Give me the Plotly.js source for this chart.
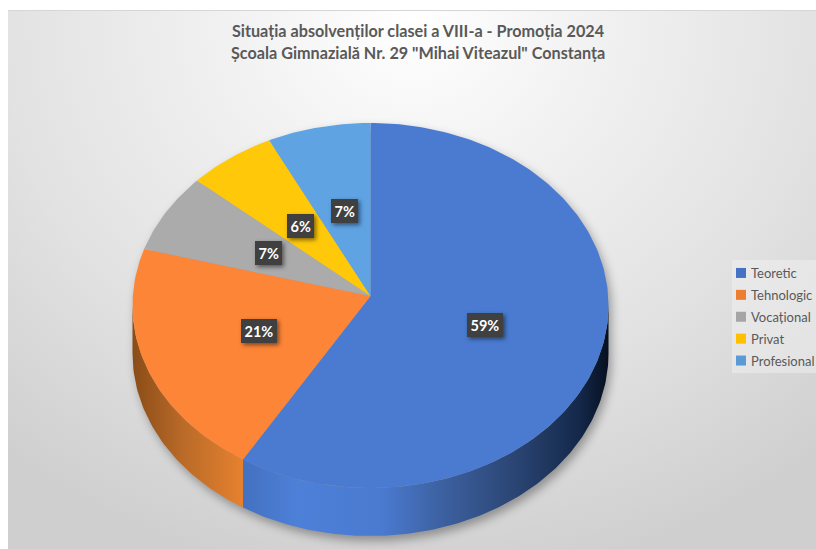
<!DOCTYPE html>
<html>
<head>
<meta charset="utf-8">
<script src="https://cdn.plot.ly/plotly-3.0.0.min.js"></script>
<style>
html,body{margin:0;padding:0;background:#fff;overflow:hidden}
#bg{position:absolute;left:8px;top:10px;right:0;bottom:0;border-top:1px solid #d6d6d6;
background:radial-gradient(ellipse 78% 105% at 50% 2%,#ffffff 0%,#f1f1f1 30%,#e2e2e2 65%,#cfcfcf 100%)}
#chart{position:absolute;left:0;top:0;width:816px;height:549px}
#chart .scatterlayer{filter:drop-shadow(3px 5px 5px rgba(0,0,0,.33))}
#chart .annotation rect{filter:drop-shadow(2px 2px 2px rgba(0,0,0,.5))}
</style>
</head>
<body>
<div id="bg"></div>
<div id="chart"></div>
<script>
// Data
const categories = ["Teoretic", "Tehnologic", "Vocațional", "Privat", "Profesional"];
const percents = [59, 21, 7, 6, 7];
const sliceColors = ["#4A7BD0", "#FD8537", "#ABABAB", "#FFC90A", "#5FA3E3"];
const legendColors = ["#4472C4", "#ED7D31", "#A5A5A5", "#FFC000", "#5B9BD5"];
const titleLines = ["Situația absolvenților clasei a VIII-a - Promoția 2024",
                    "Școala Gimnazială Nr. 29 \"Mihai Viteazul\" Constanța"];

// Geometry of the tilted pie, in axis units
const W = 816, H = 549;
const cx = 370.5, cy = 305.5, rx = 238, ry = 182.5, apexY = 296, depth = 48;
const FONT = "Lato, Carlito, Calibri, sans-serif";

const rim = (f, dy = 0) => {
  const t = 2 * Math.PI * f;
  return [cx + rx * Math.sin(t), cy - ry * Math.cos(t) + dy];
};
const arc = (f0, f1, dy = 0) => {
  const n = Math.max(2, Math.ceil((f1 - f0) * 360));
  return Array.from({length: n + 1}, (_, i) => rim(f0 + (f1 - f0) * i / n, dy));
};

const total = percents.reduce((a, b) => a + b, 0);
let acc = 0;
const bounds = percents.map(v => { const s = acc / total; acc += v; return [s, acc / total]; });

// Side wall: the part of each slice's rim that faces the viewer (0.25 to 0.75), shaded left to right
const wallScales = [
  [[0, "#4471c0"], [0.15, "#4d80d8"], [0.38, "#4a7ad0"], [0.55, "#3c609f"], [0.75, "#2a4472"], [0.92, "#14284a"], [1, "#06101f"]],
  [[0, "#8a4c17"], [0.45, "#b96a28"], [1, "#e6812f"]]
];
const traces = [];
bounds.forEach((b, i) => {
  const f0 = Math.max(b[0], 0.25), f1 = Math.min(b[1], 0.75);
  if (f1 <= f0) return;
  const pts = arc(f0, f1).concat(arc(f0, f1, depth).reverse());
  traces.push({
    type: "scatter", mode: "lines", x: pts.map(p => p[0]), y: pts.map(p => p[1]),
    fill: "toself", line: {width: 0}, showlegend: false, hoverinfo: "skip",
    fillgradient: {type: "horizontal", colorscale: wallScales[i]}
  });
});

// Top surface
bounds.forEach((b, i) => {
  const pts = [[cx, apexY]].concat(arc(b[0], b[1]));
  traces.push({
    type: "scatter", mode: "lines", name: categories[i],
    x: pts.map(p => p[0]), y: pts.map(p => p[1]),
    fill: "toself", fillcolor: sliceColors[i], line: {width: 0},
    showlegend: false, hovertemplate: categories[i] + ": " + percents[i] + "%<extra></extra>"
  });
});

// Legend keys
categories.forEach((c, i) => traces.push({
  type: "scatter", mode: "markers", name: c, x: [null], y: [null],
  legendgroup: c, marker: {symbol: "square", size: 10, color: legendColors[i]}, hoverinfo: "skip"
}));

// Value labels sit halfway between the apex and the rim of each slice
const annotations = bounds.map((b, i) => {
  const p = rim((b[0] + b[1]) / 2);
  return {
    xref: "x", yref: "y", x: (p[0] + cx) / 2, y: (p[1] + apexY) / 2 - 1,
    text: "<b>" + percents[i] + "%</b>", showarrow: false,
    font: {family: FONT, size: 14.5, color: "#ffffff"},
    bgcolor: "#404040", borderpad: 3.5, borderwidth: 0
  };
});
titleLines.forEach((t, i) => annotations.push({
  xref: "paper", yref: "paper", x: 418.5 / W, y: 1 - (31 + 22 * i) / H,
  text: "<b>" + t + "</b>", showarrow: false, xanchor: "center", yanchor: "middle",
  font: {family: FONT, size: 16.2, color: "#595959"}
}));

const layout = {
  width: W, height: H, margin: {l: 0, r: 0, t: 0, b: 0, autoexpand: false},
  paper_bgcolor: "rgba(0,0,0,0)", plot_bgcolor: "rgba(0,0,0,0)",
  xaxis: {range: [0, W], visible: false, fixedrange: true},
  yaxis: {range: [H, 0], visible: false, fixedrange: true},
  showlegend: true,
  legend: {x: 711 / W, y: 1 - 258 / H, xanchor: "left", yanchor: "top",
    bgcolor: "rgba(0,0,0,0)", borderwidth: 0, traceorder: "grouped", tracegroupgap: 2,
    font: {family: FONT, size: 13, color: "#595959"}},
  shapes: [{type: "rect", xref: "paper", yref: "paper", layer: "below",
    x0: 732 / W, x1: 1, y0: 1 - 260 / H, y1: 1 - 373 / H,
    fillcolor: "rgba(245,245,245,0.45)", line: {width: 0}}],
  annotations
};

Plotly.newPlot("chart", traces, layout, {displayModeBar: false}).then(() => {
  document.querySelectorAll("#chart .legendsymbols").forEach(g => g.setAttribute("transform", "translate(10,0)"));
});
</script>
</body>
</html>
